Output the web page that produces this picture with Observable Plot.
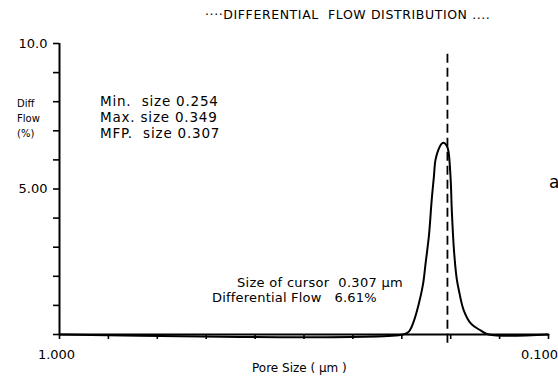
<!DOCTYPE html>
<html><head><meta charset="utf-8">
<script src="https://cdn.jsdelivr.net/npm/d3@7"></script>
<script src="https://cdn.jsdelivr.net/npm/@observablehq/plot@0.6"></script>
<style>
body{margin:0;background:#fff}
#wrap{position:relative;width:558px;height:379px;font-family:"DejaVu Sans",sans-serif;color:#000;overflow:hidden}
#wrap svg{position:absolute;left:0;top:0}
.t{position:absolute;white-space:pre;line-height:1;color:#000}
</style></head><body><div id="wrap"></div>
<script>
// Pore size (µm) and differential flow (%)
const poreSize = [1.000, 0.368, 0.357, 0.348, 0.339, 0.331, 0.326, 0.320, 0.315, 0.311, 0.308, 0.302, 0.297, 0.293, 0.287, 0.284, 0.280, 0.278, 0.274, 0.269, 0.265, 0.256, 0.243, 0.225, 0.210, 0.100];
const diffFlow = [0, 0, 0.10, 0.45, 1.03, 1.72, 2.48, 3.41, 4.62, 5.41, 6.00, 6.38, 6.55, 6.59, 6.48, 6.28, 5.31, 4.28, 2.90, 1.93, 1.52, 0.83, 0.38, 0.14, 0, 0];
const cursorSize = [0.286];
const cursorExtent = [-0.3, 9.8];
const yTicks = [0, 1, 2, 3, 4, 5, 6, 7, 8, 9, 10];
const yTickLabels = {10: "10.0", 5: "5.00"};
const xTicks = [1.00, 0.91, 0.82, 0.73, 0.64, 0.55, 0.46, 0.37, 0.28, 0.19, 0.10];
const xTickLabels = {"1": "1.000", "0.1": "0.100"};
const title = "····DIFFERENTIAL  FLOW DISTRIBUTION ....";
const yLabel = ["Diff", "Flow", "(%)"];
const stats = ["Min.  size 0.254", "Max. size 0.349", "MFP.  size 0.307"];
const cursorText = ["Size of cursor  0.307 µm", "Differential Flow   6.61%"];
const xLabel = "Pore Size ( µm )";
const panelLetter = "a";

const data = poreSize.map((x, i) => ({x, y: diffFlow[i]}));

const plot = Plot.plot({
  width: 558, height: 379,
  marginLeft: 59, marginRight: 10, marginTop: 43, marginBottom: 45,
  style: {fontFamily: "DejaVu Sans, sans-serif", fontSize: "13px", color: "#000", background: "transparent"},
  x: {type: "linear", domain: [1.0, 0.1]},
  y: {domain: [0, 10]},
  marks: [
    Plot.axisY({ticks: yTicks, tickSize: 6, tickPadding: 6, strokeWidth: 1.6, tickFormat: d => yTickLabels[d] ?? "", label: null}),
    Plot.axisX({ticks: xTicks, tickSize: 5, strokeWidth: 1.6, tickFormat: () => "", label: null}),
    Plot.axisX({ticks: [1.0], tickSize: 0, tickPadding: 15, dx: -3, tickFormat: d => xTickLabels[String(d)], label: null}),
    Plot.axisX({ticks: [0.1], tickSize: 0, tickPadding: 15, dx: -9, tickFormat: d => xTickLabels[String(d)], label: null}),
    Plot.ruleX([1.0], {strokeWidth: 2}),
    Plot.ruleY([0], {strokeWidth: 1.8}),
    Plot.line(data, {x: "x", y: "y", strokeWidth: 2, curve: "catmull-rom"}),
    Plot.ruleX(cursorSize, {x: d => d, y1: () => cursorExtent[0], y2: () => cursorExtent[1], strokeDasharray: "9,5", strokeWidth: 1.8})
  ]
});

const wrap = document.getElementById("wrap");
wrap.appendChild(plot);

function addText(str, left, top, size, extra) {
  const d = document.createElement("div");
  d.className = "t";
  d.textContent = str;
  d.style.left = left + "px";
  d.style.top = top + "px";
  d.style.fontSize = size + "px";
  if (extra) Object.assign(d.style, extra);
  wrap.appendChild(d);
}
addText(title, 205, 9, 12.5, {letterSpacing: "0.6px"});
yLabel.forEach((s, i) => addText(s, 17, 99 + i * 15, 10));
stats.forEach((s, i) => addText(s, 100, 95 + i * 16, 13.5, {letterSpacing: "0.8px"}));
addText(cursorText[0], 237, 276, 13, {letterSpacing: "0.3px"});
addText(cursorText[1], 212, 291, 13, {letterSpacing: "0.2px"});
addText(xLabel, 252, 362, 12);
addText(panelLetter, 549, 174, 17);
</script></body></html>
